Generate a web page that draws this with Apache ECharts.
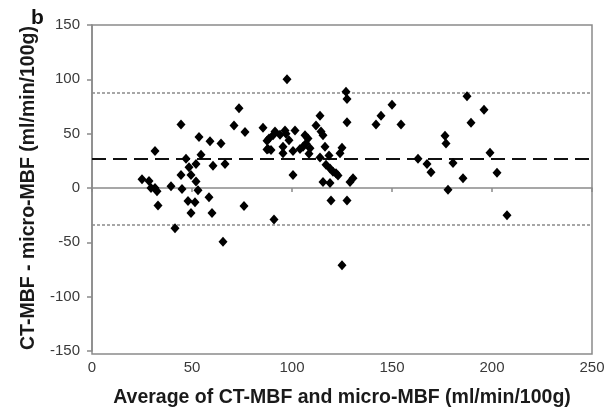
<!DOCTYPE html>
<html>
<head>
<meta charset="utf-8">
<script src="https://cdn.jsdelivr.net/npm/echarts@6/dist/echarts.min.js"></script>
<style>
  html, body { margin: 0; padding: 0; background: #fff; }
  #chart { width: 615px; height: 413px; }
</style>
</head>
<body>
<div id="chart"></div>
<script>
// Bland-Altman: mean of the two methods vs. their difference
const avgMBF = [
  25, 28.5, 29.5, 31.5, 32.5, 33, 31.5, 39.5, 41.5, 44.5,
  44.5, 45, 47, 48, 48.5, 49.5, 49.5, 51.5, 52, 52,
  53, 53.5, 54.5, 58.5, 59, 60.5, 60, 64.5, 65.5, 66.5,
  71, 73.5, 76.5, 76, 85.5, 87.5, 87.5, 88.5, 88, 89.5,
  90.5, 91.5, 94, 96.5, 97, 95.5, 95.5, 101.5, 100.5, 100.5,
  97.5, 91, 98.5, 104, 106.5, 108, 107, 105.5, 109, 108.5,
  112, 114, 114.5, 115.5, 116.5, 114, 117, 119, 118.5, 120.5,
  122, 123, 115.5, 119, 119.5, 127.5, 125, 127, 127.5, 127.5,
  125, 124, 129, 130.5, 142, 144.5, 150, 154.5, 163, 167.5,
  169.5, 176.5, 177, 180.5, 185.5, 178, 187.5, 189.5, 196, 199,
  202.5, 207.5
];
const diffMBF = [
  8, 6.5, 0, 0, -3, -16, 34, 1.5, -37, 58.5,
  12, -1, 27, -12, 19, 12, -23, -13, 22, 6,
  -2, 47, 30.5, -8.5, 43, 20.5, -23, 41, -49.5, 22,
  57.5, 73.5, 51.5, -16.5, 55.5, 43.5, 35.5, 45.5, 36, 35,
  48.5, 52, 49, 53, 50, 38, 32, 53, 34, 12,
  100, -29, 44, 36, 48.5, 45.5, 41, 38, 36.5, 31.5,
  57.5, 66.5, 52, 48.5, 38, 28, 21.5, 18, 30, 15,
  13.5, 11.5, 5.5, 4.5, -11.5, -11.5, -71, 88.5, 82, 60.5,
  37, 32, 5.5, 9, 58.5, 66.5, 76.5, 58.5, 27, 22,
  14.5, 48, 41, 23, 9, -1.5, 84.5, 60, 72, 32.5,
  14, -25
];

// Mean difference and limits of agreement
const meanDiff = [27];
const agreementLimits = [88, -34];

const xTicks = [0, 250, 50];   // min, max, step
const yTicks = [-150, 150, 50];

const points = avgMBF.map((x, i) => [x, diffMBF[i]]);

const chart = echarts.init(document.getElementById('chart'), null, { renderer: 'canvas' });

const axisGray = '#8a8a8a';
const fontFamily = '"Liberation Sans", Arial, sans-serif';
const tickFont = { fontFamily: fontFamily, fontSize: 15, color: '#3a3a3a' };
const titleFont = { fontFamily: fontFamily, fontSize: 19.5, fontWeight: 'bold', color: '#1a1a1a' };

chart.setOption({
  animation: false,
  backgroundColor: '#fff',
  graphic: [{
    type: 'text',
    left: 31,
    top: 8,
    style: { text: 'b', font: 'bold 21px ' + fontFamily, fill: '#111' }
  }, {
    type: 'rect',
    shape: { x: 92, y: 25, width: 500, height: 329 },
    style: { fill: 'none', stroke: axisGray, lineWidth: 1.5 },
    z: 0, silent: true
  }],
  grid: { left: 92, right: 23, top: 25, bottom: 59 },
  xAxis: {
    type: 'value',
    min: xTicks[0], max: xTicks[1], interval: xTicks[2],
    name: 'Average of CT-MBF and micro-MBF (ml/min/100g)',
    nameLocation: 'middle',
    nameGap: 37,
    nameTextStyle: titleFont,
    axisLine: { show: true, lineStyle: { color: axisGray, width: 1.5 } },
    axisTick: { show: true, inside: false, length: 4, lineStyle: { color: axisGray, width: 1.5 } },
    axisLabel: Object.assign({ margin: 9 }, tickFont),
    splitLine: { show: false }
  },
  yAxis: {
    type: 'value',
    min: yTicks[0], max: yTicks[1], interval: yTicks[2],
    name: 'CT-MBF - micro-MBF (ml/min/100g)',
    nameLocation: 'middle',
    nameGap: 52,
    nameTextStyle: titleFont,
    axisLine: { show: true, onZero: false, lineStyle: { color: axisGray, width: 1.5 } },
    axisTick: { show: true, inside: false, length: 5, lineStyle: { color: axisGray, width: 1.5 } },
    axisLabel: Object.assign({ margin: 12 }, tickFont),
    splitLine: { show: false }
  },
  series: [{
    type: 'scatter',
    data: points,
    symbol: 'diamond',
    symbolSize: [9, 10],
    itemStyle: { color: '#000', opacity: 1 },
    z: 5,
    markLine: {
      silent: true,
      symbol: 'none',
      label: { show: false },
      data: [
        { yAxis: meanDiff[0], lineStyle: { color: '#111', width: 2, type: [14, 7] } },
        { yAxis: agreementLimits[0], lineStyle: { color: '#8a8a8a', width: 1.5, type: [3, 2] } },
        { yAxis: agreementLimits[1], lineStyle: { color: '#8a8a8a', width: 1.5, type: [3, 2] } }
      ]
    }
  }]
});
</script>
</body>
</html>
